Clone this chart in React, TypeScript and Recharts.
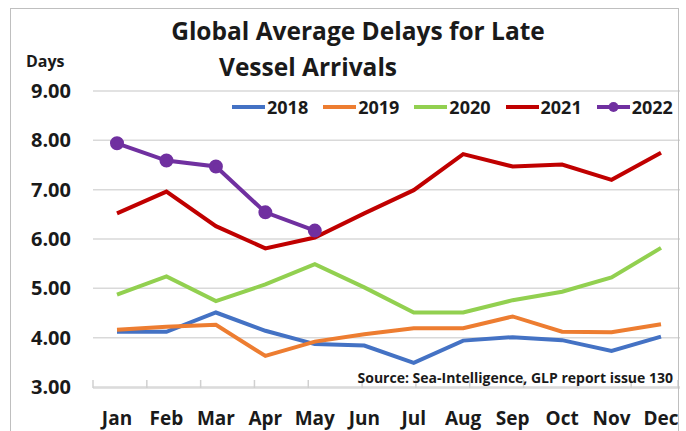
import React from "react";
import { LineChart, Line, XAxis, YAxis, CartesianGrid } from "recharts";

const months = ["Jan", "Feb", "Mar", "Apr", "May", "Jun", "Jul", "Aug", "Sep", "Oct", "Nov", "Dec"];

const y2018 = [4.12, 4.12, 4.51, 4.14, 3.87, 3.84, 3.49, 3.94, 4.01, 3.95, 3.73, 4.02];
const y2019 = [4.16, 4.22, 4.26, 3.63, 3.92, 4.07, 4.19, 4.19, 4.43, 4.12, 4.11, 4.27];
const y2020 = [4.87, 5.24, 4.74, 5.08, 5.49, 5.02, 4.51, 4.51, 4.76, 4.93, 5.22, 5.82];
const y2021 = [6.52, 6.96, 6.26, 5.81, 6.03, 6.52, 6.99, 7.72, 7.47, 7.51, 7.2, 7.75];
const y2022 = [7.94, 7.59, 7.47, 6.54, 6.17];

const yTicks = [3, 4, 5, 6, 7, 8, 9];
// band edges for the little tick marks on the bottom axis
const bandEdges = [0, 1, 2, 3, 4, 5, 6, 7, 8, 9, 10, 11, 12];

const SERIES = [
  { key: "2018", color: "#4472C4", dot: false },
  { key: "2019", color: "#ED7D31", dot: false },
  { key: "2020", color: "#92D050", dot: false },
  { key: "2021", color: "#C00000", dot: false },
  { key: "2022", color: "#7030A0", dot: true },
];

const data = months.map((m, i) => ({
  month: m,
  "2018": y2018[i],
  "2019": y2019[i],
  "2020": y2020[i],
  "2021": y2021[i],
  "2022": i < y2022.length ? y2022[i] : null,
}));

const FONT = "'Open Sans', Lato, sans-serif";
const INK = "#1a1a1a";

const XTick = (props: any) => {
  const { x, y, payload } = props;
  return (
    <text x={x} y={y + 29} textAnchor="middle" fontFamily={FONT} fontWeight={700} fontSize={19} fill={INK}>
      {payload.value}
    </text>
  );
};

const YTick = (props: any) => {
  const { y, payload } = props;
  return (
    <text x={71} y={y + 7} textAnchor="end" fontFamily={FONT} fontWeight={700} fontSize={20} fill={INK}>
      {Number(payload.value).toFixed(2)}
    </text>
  );
};

const EdgeTick = (props: any) => {
  const { x, y } = props;
  return <line x1={x} x2={x} y1={y - 7} y2={y + 1} stroke="#d0d0d0" strokeWidth={1.5} />;
};

const LegendRow = () => (
  <div style={{ position: "absolute", left: 232, top: 96, height: 22, display: "flex", alignItems: "center", fontFamily: FONT, fontWeight: 700, fontSize: 18, color: INK }}>
    {SERIES.map((s) => (
      <div key={s.key} style={{ display: "flex", alignItems: "center", marginRight: 15 }}>
        <svg width={33} height={12} style={{ display: "block" }}>
          <line x1={0} y1={6} x2={33} y2={6} stroke={s.color} strokeWidth={4} />
          {s.dot && <circle cx={16.5} cy={6} r={5} fill={s.color} />}
        </svg>
        <span style={{ marginLeft: 2, lineHeight: "22px" }}>{s.key}</span>
      </div>
    ))}
  </div>
);

export default function App() {
  return (
    <div style={{ position: "fixed", left: 0, top: 0, width: 686, height: 431, background: "#fff", overflow: "hidden" }}>
      <LineChart width={686} height={431} data={data} margin={{ top: 91, right: 1, bottom: 10, left: 13 }}>
        <CartesianGrid xAxisId="m" vertical={false} stroke="#d9d9d9" strokeWidth={1.5} />
        <XAxis
          xAxisId="e"
          type="number"
          domain={[0, 12]}
          ticks={bandEdges}
          height={1}
          tick={<EdgeTick />}
          tickSize={0}
          tickMargin={0}
          tickLine={false}
          axisLine={false}
        />
        <XAxis
          xAxisId="m"
          dataKey="month"
          height={33}
          padding={{ left: 24, right: 24 }}
          tick={<XTick />}
          tickLine={false}
          axisLine={{ stroke: "#d9d9d9", strokeWidth: 1.5 }}
          interval={0}
        />
        <YAxis domain={[3, 9]} ticks={yTicks} width={80} tick={<YTick />} tickLine={false} axisLine={false} />
        {SERIES.map((s) => (
          <Line
            key={s.key}
            xAxisId="m"
            dataKey={s.key}
            stroke={s.color}
            strokeWidth={4}
            dot={s.dot ? { r: 5, fill: s.color, stroke: s.color } : false}
            activeDot={false}
            isAnimationActive={false}
            connectNulls={false}
          />
        ))}
      </LineChart>
      <svg width={686} height={431} style={{ position: "absolute", left: 0, top: 0, pointerEvents: "none" }}>
        <text x={358} y={40} textAnchor="middle" fontFamily={FONT} fontWeight={700} fontSize={24.5} fill={INK}>
          Global Average Delays for Late
        </text>
        <text x={308} y={76} textAnchor="middle" fontFamily={FONT} fontWeight={700} fontSize={24.5} fill={INK}>
          Vessel Arrivals
        </text>
        <text x={26} y={67} fontFamily={FONT} fontWeight={700} fontSize={16} fill={INK}>
          Days
        </text>
        <text x={673} y={383} textAnchor="end" fontFamily={FONT} fontWeight={700} fontSize={14} fill={INK}>
          Source: Sea-Intelligence, GLP report issue 130
        </text>
      </svg>
      <LegendRow />
      <div style={{ position: "absolute", left: 680, top: 0, width: 6, height: 431, background: "#fff" }} />
      <div style={{ position: "absolute", left: 10, top: 8, width: 669, height: 440, border: "1px solid #bfbfbf", boxSizing: "border-box" }} />
    </div>
  );
}
